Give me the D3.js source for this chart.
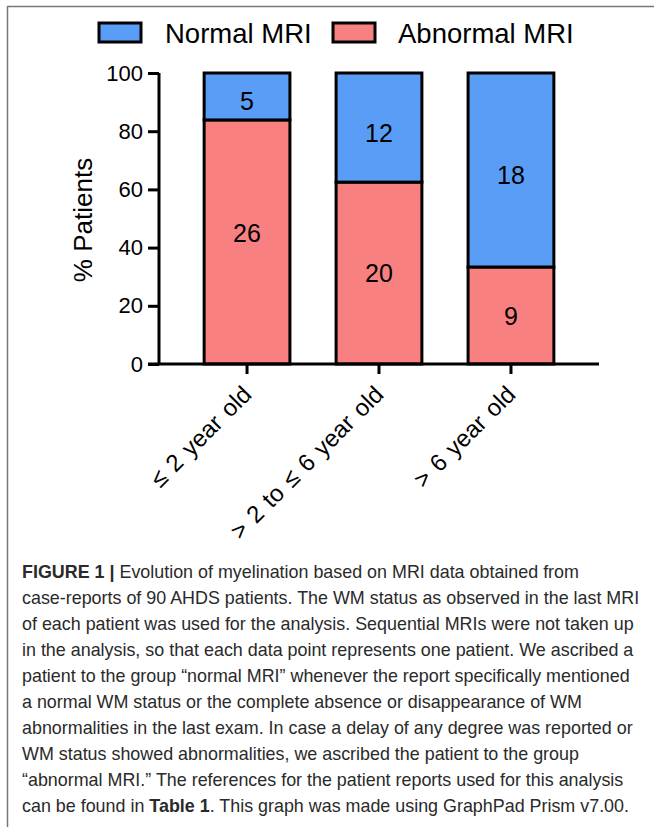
<!DOCTYPE html>
<html><head><meta charset="utf-8">
<script src="https://cdn.jsdelivr.net/npm/d3@7"></script>
<style>body{margin:0;background:#fff}svg{display:block}</style>
</head><body>
<script>
const categories = ["\u2264 2 year old", "> 2 to \u2264 6 year old", "> 6 year old"];
const normalCounts = [5, 12, 18];
const abnormalCounts = [26, 20, 9];
const seriesNames = ["Normal MRI", "Abnormal MRI"];
const yTicks = [0, 20, 40, 60, 80, 100];
const captionLines = [
  [["FIGURE 1 | ", true], ["Evolution of myelination based on MRI data obtained from", false]],
  [["case-reports of 90 AHDS patients. The WM status as observed in the last MRI", false]],
  [["of each patient was used for the analysis. Sequential MRIs were not taken up", false]],
  [["in the analysis, so that each data point represents one patient. We ascribed a", false]],
  [["patient to the group \u201cnormal MRI\u201d whenever the report specifically mentioned", false]],
  [["a normal WM status or the complete absence or disappearance of WM", false]],
  [["abnormalities in the last exam. In case a delay of any degree was reported or", false]],
  [["WM status showed abnormalities, we ascribed the patient to the group", false]],
  [["\u201cabnormal MRI.\u201d The references for the patient reports used for this analysis", false]],
  [["can be found in ", false], ["Table 1", true], [". This graph was made using GraphPad Prism v7.00.", false]]
];

const W = 654, H = 827;
const colors = {normal: "#5a9df6", abnormal: "#f98080"};
const font = "'Liberation Sans', Arial, Helvetica, sans-serif";

const svg = d3.select("body").append("svg").attr("width", W).attr("height", H);

// frame
svg.append("line").attr("x1", 7).attr("x2", W).attr("y1", 6.5).attr("y2", 6.5).attr("stroke", "#777").attr("stroke-width", 1.5);
svg.append("line").attr("x1", 7.5).attr("x2", 7.5).attr("y1", 6).attr("y2", H).attr("stroke", "#777").attr("stroke-width", 1.5);

const data = categories.map((c, i) => {
  const tot = normalCounts[i] + abnormalCounts[i];
  return {cat: c, n: normalCounts[i], a: abnormalCounts[i], pa: abnormalCounts[i] / tot * 100};
});

const x = d3.scaleBand().domain(categories).range([159, 599]).paddingInner(0.35).paddingOuter(0.342);
const y = d3.scaleLinear().domain([0, 100]).range([364, 73]);

const g = svg.append("g");

// bars
const bars = g.selectAll(".bar").data(data).enter().append("g");
bars.append("rect")
  .attr("x", d => x(d.cat)).attr("width", x.bandwidth())
  .attr("y", d => y(d.pa)).attr("height", d => y(0) - y(d.pa))
  .attr("fill", colors.abnormal).attr("stroke", "#000").attr("stroke-width", 3);
bars.append("rect")
  .attr("x", d => x(d.cat)).attr("width", x.bandwidth())
  .attr("y", y(100)).attr("height", d => y(d.pa) - y(100))
  .attr("fill", colors.normal).attr("stroke", "#000").attr("stroke-width", 3);
bars.append("text")
  .attr("x", d => x(d.cat) + x.bandwidth() / 2)
  .attr("y", d => (y(d.pa) + y(100)) / 2 + 5)
  .attr("dy", "0.36em").attr("text-anchor", "middle")
  .attr("font-family", font).attr("font-size", 25).text(d => d.n);
bars.append("text")
  .attr("x", d => x(d.cat) + x.bandwidth() / 2)
  .attr("y", (d, i) => (y(d.pa) + y(0)) / 2 - (i === 0 ? 9 : 0))
  .attr("dy", "0.36em").attr("text-anchor", "middle")
  .attr("font-family", font).attr("font-size", 25).text(d => d.a);

// y axis
const yAxis = g.append("g").attr("transform", "translate(159,0)")
  .call(d3.axisLeft(y).tickValues(yTicks).tickSize(11).tickPadding(5));
yAxis.select(".domain").attr("stroke-width", 3).attr("d", `M0,${y(100)}V${y(0)}`);
yAxis.selectAll(".tick line").attr("stroke-width", 3);
yAxis.selectAll(".tick text").attr("font-family", font).attr("font-size", 22).attr("fill", "#000");

// x axis
const xAxis = g.append("g").attr("transform", "translate(0,364)")
  .call(d3.axisBottom(x).tickSize(10).tickSizeOuter(0));
xAxis.select(".domain").attr("stroke-width", 3).attr("d", "M148,0H599");
xAxis.selectAll(".tick line").attr("stroke-width", 3);
xAxis.selectAll(".tick text")
  .attr("font-family", font).attr("font-size", 24).attr("fill", "#000")
  .attr("text-anchor", "end").attr("dy", "0.35em")
  .attr("transform", "translate(0,26) rotate(-45)")
  .attr("y", 0).attr("x", 0)
  .attr("word-spacing", "2px");

// y title
svg.append("text").attr("transform", "translate(92,220) rotate(-90)")
  .attr("text-anchor", "middle").attr("font-family", font).attr("font-size", 26)
  .text("% Patients");

// legend
const legend = svg.append("g");
const legendItems = [{name: seriesNames[0], color: colors.normal, x: 99, tx: 165},
                     {name: seriesNames[1], color: colors.abnormal, x: 333, tx: 398}];
legendItems.forEach(it => {
  legend.append("rect").attr("x", it.x).attr("y", 23).attr("width", 42).attr("height", 19)
    .attr("fill", it.color).attr("stroke", "#000").attr("stroke-width", 3);
  legend.append("text").attr("x", it.tx).attr("y", 43).attr("font-family", font)
    .attr("font-size", 27.5).text(it.name);
});

// caption
const cap = svg.append("g");
captionLines.forEach((line, i) => {
  const t = cap.append("text").attr("x", 22).attr("y", 578 + i * 26)
    .attr("font-family", font).attr("font-size", 17.9).attr("fill", "#2a2a2a");
  line.forEach(([s, b]) => t.append("tspan").attr("font-weight", b ? "bold" : "normal").text(s));
});
</script>
</body></html>
